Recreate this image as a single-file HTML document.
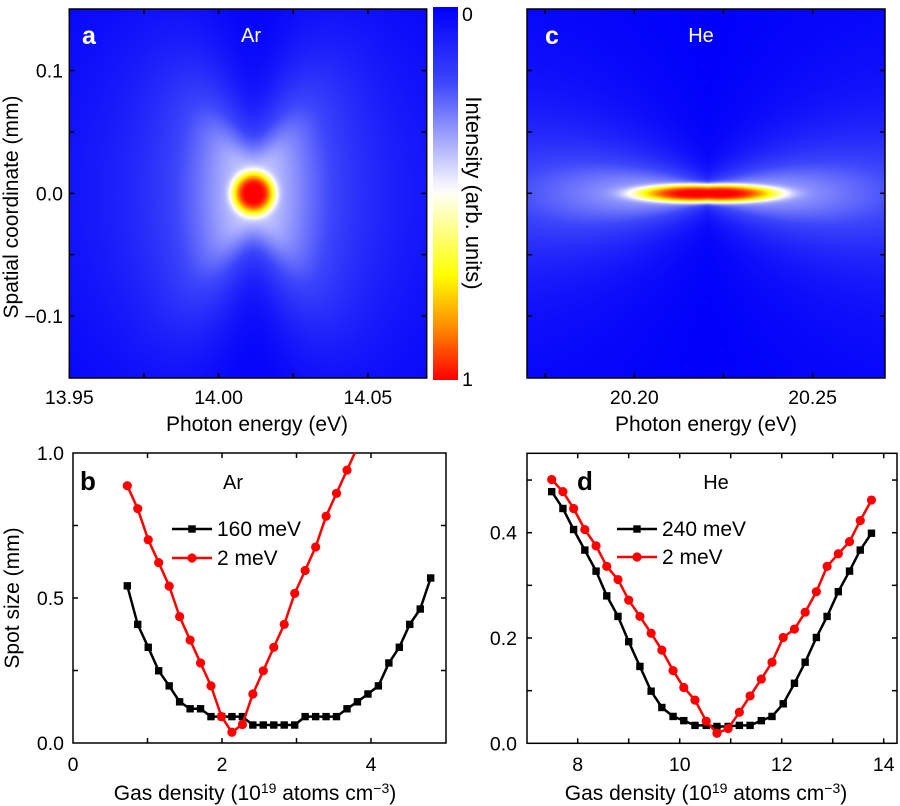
<!DOCTYPE html>
<html><head><meta charset="utf-8"><style>
html,body{margin:0;padding:0;background:#fff;}
#wrap{position:relative;width:900px;height:806px;overflow:hidden;font-family:"Liberation Sans",Arial,sans-serif;}
canvas{position:absolute;}
svg{position:absolute;left:0;top:0;}
text{font-family:"Liberation Sans",Arial,sans-serif;}
</style></head><body>
<div id="wrap">
<canvas id="ca" width="357" height="369" style="left:69px;top:9px"></canvas>
<canvas id="cc" width="358" height="369" style="left:527px;top:9px"></canvas>
<canvas id="cb" width="25" height="373" style="left:433px;top:7px"></canvas>
<svg id="svg" width="900" height="806"></svg>
</div>
<script>
// ---- data ----
const bBlackX=[0.729,0.869,1.010,1.150,1.291,1.431,1.572,1.712,1.852,1.993,2.133,2.274,2.414,2.554,2.695,2.835,2.976,3.116,3.257,3.397,3.537,3.678,3.818,3.959,4.099,4.240,4.380,4.520,4.661,4.801];
const bBlackY=[0.542,0.409,0.330,0.249,0.197,0.142,0.118,0.118,0.091,0.091,0.091,0.091,0.062,0.062,0.062,0.062,0.062,0.091,0.091,0.091,0.091,0.118,0.142,0.169,0.197,0.276,0.330,0.409,0.462,0.569];
const bRedX=[0.729,0.869,1.010,1.150,1.291,1.431,1.572,1.712,1.852,1.993,2.133,2.274,2.414,2.554,2.695,2.835,2.976,3.116,3.257,3.397,3.537,3.678,3.818];
const bRedY=[0.887,0.808,0.701,0.622,0.541,0.436,0.355,0.276,0.197,0.091,0.037,0.064,0.169,0.249,0.330,0.409,0.516,0.595,0.676,0.782,0.861,0.941,1.02];
const dX=[7.49,7.71,7.92,8.14,8.36,8.57,8.79,9.00,9.22,9.44,9.65,9.87,10.08,10.30,10.52,10.73,10.95,11.17,11.38,11.60,11.81,12.03,12.25,12.46,12.68,12.89,13.11,13.33,13.54,13.76];
const dBlackY=[0.478,0.446,0.406,0.367,0.327,0.280,0.241,0.193,0.146,0.099,0.068,0.051,0.043,0.034,0.034,0.032,0.032,0.034,0.034,0.043,0.051,0.075,0.114,0.154,0.201,0.241,0.288,0.327,0.367,0.399];
const dRedY=[0.501,0.478,0.446,0.406,0.375,0.336,0.311,0.272,0.241,0.209,0.177,0.138,0.106,0.082,0.042,0.019,0.028,0.059,0.090,0.122,0.154,0.201,0.217,0.249,0.288,0.336,0.360,0.383,0.423,0.462];
const bXTicks=[0,2,4], bYTicks=[0.0,0.5,1.0];
const dXTicks=[8,10,12,14], dYTicks=[0.0,0.2,0.4];
const aXTicks=[13.95,14.00,14.05], aYTicks=[-0.1,0.0,0.1];
const cXTicks=[20.20,20.25];

// ---- colormap ----
const stops=[[0,[0,0,250]],[0.2,[60,70,250]],[0.47,[240,240,255]],[0.5,[255,255,245]],[0.72,[255,255,0]],[0.85,[255,150,0]],[1,[255,0,0]]];
function cmap(v){v=Math.max(0,Math.min(1,v));for(let i=1;i<stops.length;i++){if(v<=stops[i][0]){const a=stops[i-1],b=stops[i],t=(v-a[0])/(b[0]-a[0]);return [0,1,2].map(k=>Math.round(a[1][k]+(b[1][k]-a[1][k])*t));}}return stops[stops.length-1][1];}
function paint(id,f){const c=document.getElementById(id),ctx=c.getContext('2d'),W=c.width,H=c.height,img=ctx.createImageData(W,H);
for(let y=0;y<H;y++)for(let x=0;x<W;x++){const col=cmap(f(x,y));const i=(y*W+x)*4;img.data[i]=col[0];img.data[i+1]=col[1];img.data[i+2]=col[2];img.data[i+3]=255;}ctx.putImageData(img,0,0);}
paint('ca',(x,y)=>{const dx=x-184,dy=y-184;const r=Math.sqrt(dx*dx+dy*dy);
 const blob=0.6*Math.exp(-Math.pow(r/21,4));
 const g=1-Math.exp(-(dx*dx+500)/(Math.pow(0.45*Math.abs(dy),2)+1));
 const lobe=0.42/(1+Math.pow(dx/75,2))*Math.exp(-Math.pow(dy/200,2))*g;return blob+lobe;});
paint('cc',(x,y)=>{const dx=x-180,dy=y-184;const r2=Math.pow(dx/72,2)+Math.pow(dy/9.5,2);
 const blob=0.62*Math.exp(-r2*r2);const w=10+0.3*Math.abs(dx);
 const lobe=0.4/(1+Math.pow(dy/w,2))/(1+Math.pow(dx/200,2));return blob+lobe;});
paint('cb',(x,y)=>y/372);

// ---- svg helpers ----
const NS='http://www.w3.org/2000/svg',svg=document.getElementById('svg');
function el(tag,attrs,parent){const e=document.createElementNS(NS,tag);for(const k in attrs)e.setAttribute(k,attrs[k]);(parent||svg).appendChild(e);return e;}
function txt(s,x,y,opt,name){const t=el('text',Object.assign({x:x,y:y,'font-size':19.5,fill:'#000'},opt||{}));t.textContent=s;


return t;}
function frame(x0,y0,x1,y1,name){const r=el('rect',{x:x0,y:y0,width:x1-x0,height:y1-y0,fill:'none',stroke:'#000','stroke-width':1.5});

}
function tick(x1,y1,x2,y2){const l=el('line',{x1:x1,y1:y1,x2:x2,y2:y2,stroke:'#000','stroke-width':1.5});

}
function ticksX(sx,vals,y0,y1){vals.forEach(v=>{const x=sx(v);tick(x,y1,x,y1-5);tick(x,y0,x,y0+5);});}
function ticksY(sy,vals,x0,x1){vals.forEach(v=>{const y=sy(v);tick(x0,y,x0+5,y);tick(x1,y,x1-5,y);});}
const TS=21;

// ---- panel a ----
const axA=v=>69.3+(v-13.95)/0.05*149.3, ayA=v=>193.3-v/0.1*122.8;
frame(69.3,9,426.7,378,'panel-a-frame');
ticksX(axA,[13.95,13.975,14.0,14.025,14.05],9,378);ticksY(ayA,[-0.1,-0.05,0,0.05,0.1],69.3,426.7);
aXTicks.forEach(v=>txt(v.toFixed(2),axA(v),404,{'text-anchor':'middle'},'x-tick-label'));
aYTicks.forEach(v=>txt(v===0?'0.0':(v<0?'\u22120.1':'0.1'),63,ayA(v)+7,{'text-anchor':'end'},'y-tick-label'));
txt('Photon energy (eV)',257,431,{'text-anchor':'middle','font-size':TS},'x-axis-title');
txt('Spatial coordinate (mm)',0,0,{'text-anchor':'middle','font-size':TS,transform:'translate(18,207) rotate(-90)'},'y-axis-title');
txt('a',82,44,{'font-weight':'bold','font-size':25,fill:'#fff'},'panel-label-a');
txt('Ar',251,42,{'text-anchor':'middle',fill:'#fff','font-size':20},'panel-title-ar');
txt('0',462,21,{},'colorbar-min');txt('1',462,386,{},'colorbar-max');
txt('Intensity (arb. units)',0,0,{'text-anchor':'middle','font-size':22,transform:'translate(466,193) rotate(90)'},'colorbar-title');

// ---- panel c ----
const axC=v=>634.3+(v-20.20)/0.05*178.3;
frame(527,9,885,378,'panel-c-frame');
ticksX(axC,[20.175,20.20,20.225,20.25],9,378);ticksY(ayA,[-0.1,-0.05,0,0.05,0.1],527,885);
cXTicks.forEach(v=>txt(v.toFixed(2),axC(v),404,{'text-anchor':'middle'},'x-tick-label'));
txt('Photon energy (eV)',706,431,{'text-anchor':'middle','font-size':TS},'x-axis-title');
txt('c',545,44,{'font-weight':'bold','font-size':25,fill:'#fff'},'panel-label-c');
txt('He',701,42,{'text-anchor':'middle',fill:'#fff','font-size':20},'panel-title-he');

// ---- line plots ----
function series(sx,sy,xs,ys,color,marker,name,clip){const g=el('g',clip?{'clip-path':'url(#'+clip+')'}:{});


const pts=xs.map((x,i)=>sx(x).toFixed(1)+','+sy(ys[i]).toFixed(1)).join(' ');
el('polyline',{points:pts,fill:'none',stroke:color,'stroke-width':2.5},g);
xs.forEach((x,i)=>{let m;if(marker==='sq')m=el('rect',{x:sx(x)-3.7,y:sy(ys[i])-3.7,width:7.4,height:7.4,fill:color},g);
else m=el('circle',{cx:sx(x),cy:sy(ys[i]),r:4.6,fill:color},g);

});}
function legend(x,y,label,color,marker,name){const g=el('g',{});


el('line',{x1:x,y1:y,x2:x+40,y2:y,stroke:color,'stroke-width':2.5},g);
if(marker==='sq')el('rect',{x:x+16.3,y:y-3.7,width:7.4,height:7.4,fill:color},g);else el('circle',{cx:x+20,cy:y,r:4.6,fill:color},g);
const t=el('text',{x:x+45,y:y+7,'font-size':21},g);t.textContent=label;}
const defs=el('defs',{});
const cp=el('clipPath',{id:'clipb'},defs);el('rect',{x:73,y:453,width:373,height:290},cp);

// panel b
const bx=v=>73+v*74.5, by=v=>743-v*290;
frame(73,453,446,743,'panel-b-frame');
ticksX(bx,[1,2,3,4],453,743);ticksY(by,[0.25,0.5,0.75],73,446);
bXTicks.forEach(v=>txt(String(v),bx(v),771,{'text-anchor':'middle'},'x-tick-label'));
bYTicks.forEach(v=>txt(v.toFixed(1),64,by(v)+7,{'text-anchor':'end'},'y-tick-label'));
series(bx,by,bBlackX,bBlackY,'#000','sq','series-160mev');
series(bx,by,bRedX,bRedY,'#f00','ci','series-2mev-ar','clipb');
txt('b',80,490,{'font-weight':'bold','font-size':26},'panel-label-b');
txt('Ar',233,489,{'text-anchor':'middle','font-size':20},'panel-title-ar');
legend(172,529,'160 meV','#000','sq','legend-160mev');
legend(172,558,'2 meV','#f00','ci','legend-2mev');
const tb=txt('',255,800,{'text-anchor':'middle','font-size':TS},'x-axis-title');tb.innerHTML='Gas density (10<tspan dy="-7" font-size="14">19</tspan><tspan dy="7"> atoms cm</tspan><tspan dy="-7" font-size="14">\u22123</tspan><tspan dy="7">)</tspan>';
txt('Spot size (mm)',0,0,{'text-anchor':'middle','font-size':TS,transform:'translate(19,598) rotate(-90)'},'y-axis-title');

// panel d
const dx_=v=>577.7+(v-8)*51, dy_=v=>743.3-v*526.5;
frame(527,453.3,897,743.3,'panel-d-frame');
ticksX(dx_,[8,9,10,11,12,13,14],453.3,743.3);ticksY(dy_,[0.1,0.2,0.3,0.4,0.5],527,897);
dXTicks.forEach(v=>txt(String(v),dx_(v),771,{'text-anchor':'middle'},'x-tick-label'));
dYTicks.forEach(v=>txt(v.toFixed(1),517,dy_(v)+7,{'text-anchor':'end'},'y-tick-label'));
series(dx_,dy_,dX,dBlackY,'#000','sq','series-240mev');
series(dx_,dy_,dX,dRedY,'#f00','ci','series-2mev-he');
txt('d',577,490,{'font-weight':'bold','font-size':26},'panel-label-d');
txt('He',716,489,{'text-anchor':'middle','font-size':20},'panel-title-he');
legend(617,529,'240 meV','#000','sq','legend-240mev');
legend(617,557,'2 meV','#f00','ci','legend-2mev-he');
const td=txt('',706,800,{'text-anchor':'middle','font-size':TS},'x-axis-title');td.innerHTML='Gas density (10<tspan dy="-7" font-size="14">19</tspan><tspan dy="7"> atoms cm</tspan><tspan dy="-7" font-size="14">\u22123</tspan><tspan dy="7">)</tspan>';
</script>
</body></html>
